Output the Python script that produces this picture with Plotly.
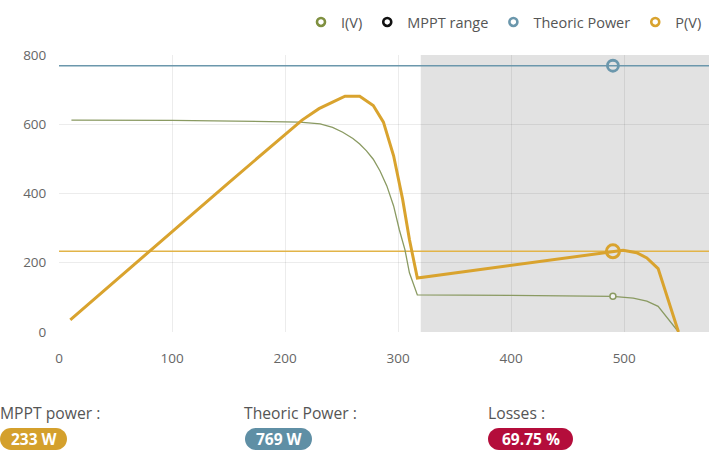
import plotly.graph_objects as go

# ---------------- data ----------------
v_p = [10, 80, 150, 215, 230, 242, 253, 266, 278, 287, 296, 304, 310, 317, 490, 499, 511, 520, 530, 548]
p_v = [35, 233, 431, 612, 645, 664, 681, 681, 654, 606, 509, 383, 267, 156, 233, 236, 229, 214, 183, 0]

v_i = [11, 100, 200, 213, 231, 242, 251, 260, 266, 272, 278, 284, 290, 296, 301, 306, 310, 317, 400, 490, 508, 520, 530, 548]
i_v = [612, 611, 607, 606, 601, 591, 577, 559, 543, 523, 499, 465, 422, 364, 296, 238, 171, 107, 106, 103, 98, 89, 74, 0]

x_span = [0, 575]
theoric_power = 769
mppt_power = 233
mppt_v = 490
mppt_i = 103
mppt_range = [320, 575]
losses = 69.75

x_ticks = [0, 100, 200, 300, 400, 500]
y_ticks = [0, 200, 400, 600, 800]

# ---------------- colors ----------------
C_I = "#8a9a62"
C_I_LEG = "#7f9040"
C_T = "#6b97ac"
C_P = "#d9a32e"
C_PL = "#e2b448"
C_RED = "#b40d3b"
FONT = "Open Sans"

W, H = 710, 452
ML, MR, MT, MB = 59, 1, 55, 120
PW, PH = W - ML - MR, H - MT - MB


def px2paper(x, y):
    return (x - ML) / PW, (H - MB - y) / PH


fig = go.Figure()

# main traces
fig.add_trace(go.Scatter(x=x_span, y=[theoric_power] * 2, mode="lines",
                         line=dict(color=C_T, width=1.5), showlegend=False, hoverinfo="skip"))
fig.add_trace(go.Scatter(x=x_span, y=[mppt_power] * 2, mode="lines",
                         line=dict(color=C_PL, width=1.5), showlegend=False, hoverinfo="skip"))
fig.add_trace(go.Scatter(x=v_i, y=i_v, mode="lines",
                         line=dict(color=C_I, width=1.3), showlegend=False))
fig.add_trace(go.Scatter(x=v_p, y=p_v, mode="lines",
                         line=dict(color=C_P, width=3), showlegend=False))
# MPPT markers
fig.add_trace(go.Scatter(x=[mppt_v], y=[mppt_i], mode="markers",
                         marker=dict(symbol="circle", size=6, color="#f4f4f4",
                                     line=dict(color=C_I, width=1.5)), showlegend=False))
fig.add_trace(go.Scatter(x=[mppt_v], y=[theoric_power], mode="markers",
                         marker=dict(symbol="circle-open", size=11, color=C_T,
                                     line=dict(width=2.8)), showlegend=False))
fig.add_trace(go.Scatter(x=[mppt_v], y=[mppt_power], mode="markers",
                         marker=dict(symbol="circle-open", size=13, color=C_P,
                                     line=dict(width=3)), showlegend=False))

# legend entries
for name, col in [("I(V)", C_I_LEG), ("MPPT range", "#111111"),
                  ("Theoric Power", C_T), ("P(V)", C_P)]:
    fig.add_trace(go.Scatter(x=[None], y=[None], mode="markers", name=name,
                             marker=dict(symbol="circle-open", size=8, color=col,
                                         line=dict(width=2.6))))

shapes = [dict(type="rect", xref="x", yref="paper", x0=mppt_range[0], x1=mppt_range[1],
               y0=0, y1=1, fillcolor="#e2e2e2", line=dict(width=0), layer="below")]
annotations = []


def pill(x0, x1, y0, y1, color, text):
    r = (y1 - y0) / 2
    k = 0.5523 * r

    def P(x, y):
        a, b = px2paper(x, y)
        return f"{a:.5f},{b:.5f}"

    path = (f"M {P(x0 + r, y0)} L {P(x1 - r, y0)} "
            f"C {P(x1 - r + k, y0)} {P(x1, y0 + r - k)} {P(x1, y0 + r)} "
            f"C {P(x1, y0 + r + k)} {P(x1 - r + k, y1)} {P(x1 - r, y1)} "
            f"L {P(x0 + r, y1)} "
            f"C {P(x0 + r - k, y1)} {P(x0, y0 + r + k)} {P(x0, y0 + r)} "
            f"C {P(x0, y0 + r - k)} {P(x0 + r - k, y0)} {P(x0 + r, y0)} Z")
    shapes.append(dict(type="path", xref="paper", yref="paper", path=path,
                       fillcolor=color, line=dict(width=0), layer="above"))
    cx, cy = px2paper((x0 + x1) / 2, (y0 + y1) / 2)
    annotations.append(dict(xref="paper", yref="paper", x=cx, y=cy, text=f"<b>{text}</b>",
                            showarrow=False, xanchor="center", yanchor="middle",
                            font=dict(family=FONT, size=15.5, color="white")))


def label(x, y, text):
    a, b = px2paper(x, y)
    annotations.append(dict(xref="paper", yref="paper", x=a, y=b, text=text,
                            showarrow=False, xanchor="left", yanchor="middle",
                            font=dict(family=FONT, size=15.7, color="#555555")))


label(-2, 413, "MPPT power :")
label(242, 413, "Theoric Power :")
label(486, 413, "Losses :")
pill(0, 67, 428, 450, "#d4a02c", f"{mppt_power} W")
pill(245, 312, 428, 450, "#5f8fa5", f"{theoric_power} W")
pill(488, 573, 428, 450, C_RED, f"{losses:.2f} %")

lx, ly = px2paper(707, 22)

fig.update_layout(
    width=W, height=H,
    margin=dict(l=ML, r=MR, t=MT, b=MB, pad=0),
    paper_bgcolor="white", plot_bgcolor="rgba(0,0,0,0)",
    font=dict(family=FONT, color="#666666"),
    shapes=shapes, annotations=annotations,
    legend=dict(orientation="h", x=lx, xanchor="right", y=ly, yanchor="middle",
                font=dict(family=FONT, size=14.5, color="#555555"),
                itemwidth=30, bgcolor="rgba(0,0,0,0)", traceorder="normal"),
    xaxis=dict(range=x_span, tickvals=x_ticks, showgrid=True, gridcolor="rgba(0,0,0,0.075)",
               gridwidth=1, zeroline=False, showline=False, ticks="outside", ticklen=14,
               tickcolor="rgba(0,0,0,0)", tickfont=dict(size=13.5, color="#666666")),
    yaxis=dict(range=[0, 800], tickvals=y_ticks, showgrid=True, gridcolor="rgba(0,0,0,0.075)",
               gridwidth=1, zeroline=False, showline=False, ticks="outside", ticklen=9,
               tickcolor="rgba(0,0,0,0)", tickfont=dict(size=13.5, color="#666666")),
    hovermode=False,
)

fig.write_html("out.html", config={"displayModeBar": False},
               post_script="document.body.style.margin='0';document.body.style.overflow='hidden';")
